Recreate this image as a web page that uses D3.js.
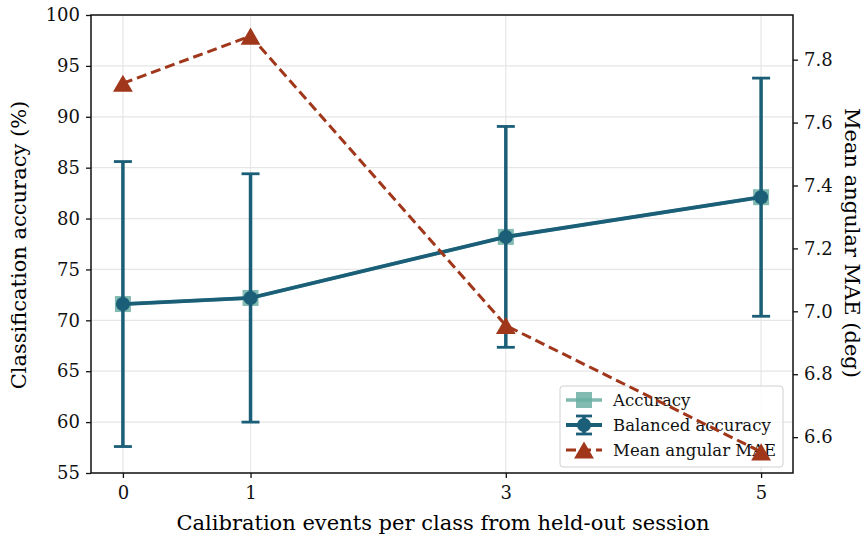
<!DOCTYPE html>
<html>
<head>
<meta charset="utf-8">
<script src="https://cdn.jsdelivr.net/npm/d3@7"></script>
<style>
  body { margin: 0; background: #fff; }
  svg { font-family: "DejaVu Serif", serif; }
</style>
</head>
<body>
<svg id="chart" width="867" height="537"></svg>
<script>
// Calibration events per class and the metrics measured at each
const calibEvents = [0, 1, 3, 5];
const accuracy = [71.6, 72.2, 78.2, 82.1];
const balancedAccuracy = [71.6, 72.2, 78.2, 82.1];
const balancedStd = [14.0, 12.2, 10.85, 11.7];
const meanAngularMAE = [7.725, 7.875, 6.955, 6.553];
const leftTicks = [55, 60, 65, 70, 75, 80, 85, 90, 95, 100];
const rightTicks = [6.6, 6.8, 7.0, 7.2, 7.4, 7.6, 7.8];

const W = 867, H = 537;
const m = { left: 91, right: 74, top: 15, bottom: 64 };
const iw = W - m.left - m.right, ih = H - m.top - m.bottom;

const cAcc = "#6aaea3", cBal = "#1b5e78", cMae = "#a0361a";

const svg = d3.select("#chart");
const g = svg.append("g").attr("transform", `translate(${m.left},${m.top})`);

const x = d3.scaleLinear().domain([-0.25, 5.25]).range([0, iw]);
const y = d3.scaleLinear().domain([55, 100]).range([ih, 0]);
const y2 = d3.scaleLinear().domain([6.486, 7.942]).range([ih, 0]);

// grid
g.append("g").selectAll("line").data(leftTicks).join("line")
  .attr("x1", 0).attr("x2", iw).attr("y1", d => y(d)).attr("y2", d => y(d))
  .attr("stroke", "#e6e6e6").attr("stroke-width", 1.2);
g.append("g").selectAll("line").data(calibEvents).join("line")
  .attr("y1", 0).attr("y2", ih).attr("x1", d => x(d)).attr("x2", d => x(d))
  .attr("stroke", "#e6e6e6").attr("stroke-width", 1.2);

// axes
const styleAxis = sel => {
  sel.selectAll("text").attr("font-size", 18).attr("fill", "#111").attr("font-family", "DejaVu Serif");
  sel.selectAll("line").attr("stroke", "#111").attr("stroke-width", 1.3);
  sel.select(".domain").remove();
};
g.append("g").attr("transform", `translate(0,${ih})`)
  .call(d3.axisBottom(x).tickValues(calibEvents).tickFormat(d3.format("d")).tickSize(5).tickPadding(8))
  .call(styleAxis);
g.append("g")
  .call(d3.axisLeft(y).tickValues(leftTicks).tickSize(5).tickPadding(6))
  .call(styleAxis);
g.append("g").attr("transform", `translate(${iw},0)`)
  .call(d3.axisRight(y2).tickValues(rightTicks).tickFormat(d3.format(".1f")).tickSize(5).tickPadding(6))
  .call(styleAxis);

// frame
g.append("rect").attr("width", iw).attr("height", ih)
  .attr("fill", "none").attr("stroke", "#111").attr("stroke-width", 1.5);

// axis titles
svg.append("text").attr("transform", `translate(26,${m.top + ih / 2 + 1}) rotate(-90)`)
  .attr("text-anchor", "middle").attr("font-size", 21).text("Classification accuracy (%)");
svg.append("text").attr("transform", `translate(845,${m.top + ih / 2 - 1}) rotate(90)`)
  .attr("text-anchor", "middle").attr("font-size", 21).text("Mean angular MAE (deg)");
svg.append("text").attr("x", m.left + iw / 2 + 1).attr("y", 530)
  .attr("text-anchor", "middle").attr("font-size", 21).text("Calibration events per class from held-out session");

const plot = g.append("g");

// accuracy (light, underneath)
const accPts = calibEvents.map((e, i) => [x(e), y(accuracy[i])]);
plot.append("path").attr("d", d3.line()(accPts)).attr("fill", "none")
  .attr("stroke", cAcc).attr("stroke-width", 3.5).attr("opacity", 0.85);
plot.append("g").selectAll("rect").data(accPts).join("rect")
  .attr("x", d => d[0] - 8).attr("y", d => d[1] - 8).attr("width", 16).attr("height", 16)
  .attr("fill", cAcc).attr("opacity", 0.85);

// balanced accuracy with std error bars
const balPts = calibEvents.map((e, i) => ({ x: x(e), y: y(balancedAccuracy[i]),
  lo: y(balancedAccuracy[i] - balancedStd[i]), hi: y(balancedAccuracy[i] + balancedStd[i]) }));
const eb = plot.append("g").attr("stroke", cBal).attr("stroke-width", 3.5);
eb.selectAll(".v").data(balPts).join("line")
  .attr("x1", d => d.x).attr("x2", d => d.x).attr("y1", d => d.lo).attr("y2", d => d.hi);
eb.selectAll(".ct").data(balPts).join("line")
  .attr("x1", d => d.x - 9).attr("x2", d => d.x + 9).attr("y1", d => d.hi).attr("y2", d => d.hi).attr("stroke-width", 2.8);
eb.selectAll(".cb").data(balPts).join("line")
  .attr("x1", d => d.x - 9).attr("x2", d => d.x + 9).attr("y1", d => d.lo).attr("y2", d => d.lo).attr("stroke-width", 2.8);
plot.append("path").attr("d", d3.line().x(d => d.x).y(d => d.y)(balPts)).attr("fill", "none")
  .attr("stroke", cBal).attr("stroke-width", 3.8);
plot.append("g").selectAll("circle").data(balPts).join("circle")
  .attr("cx", d => d.x).attr("cy", d => d.y).attr("r", 7).attr("fill", cBal);

// upward triangle centred on its bounding box
const boxTriangle = {
  draw(ctx, size) {
    const s = Math.sqrt(size * 4 / Math.sqrt(3));
    const h = s * Math.sqrt(3) / 2;
    ctx.moveTo(0, -h / 2);
    ctx.lineTo(s / 2, h / 2);
    ctx.lineTo(-s / 2, h / 2);
    ctx.closePath();
  }
};
const tri = d3.symbol().type(boxTriangle).size(170);

// legend (sits under the right-axis series)
const lg = svg.append("g").attr("transform", "translate(560,386)");
lg.append("rect").attr("width", 223).attr("height", 81).attr("rx", 3)
  .attr("fill", "#fff").attr("fill-opacity", 0.8).attr("stroke", "#d0d0d0").attr("stroke-width", 1);
const items = [
  { label: "Accuracy", kind: "acc" },
  { label: "Balanced accuracy", kind: "bal" },
  { label: "Mean angular MAE", kind: "mae" }
];
items.forEach((it, i) => {
  const cy = 14 + i * 25, hx = 24;
  const row = lg.append("g");
  if (it.kind === "acc") {
    row.append("line").attr("x1", 6).attr("x2", 42).attr("y1", cy).attr("y2", cy)
      .attr("stroke", cAcc).attr("stroke-width", 3.5).attr("opacity", 0.85);
    row.append("rect").attr("x", hx - 8).attr("y", cy - 8).attr("width", 16).attr("height", 16)
      .attr("fill", cAcc).attr("opacity", 0.85);
  } else if (it.kind === "bal") {
    row.append("line").attr("x1", 6).attr("x2", 42).attr("y1", cy).attr("y2", cy)
      .attr("stroke", cBal).attr("stroke-width", 3.8);
    row.append("line").attr("x1", hx).attr("x2", hx).attr("y1", cy - 9).attr("y2", cy + 9)
      .attr("stroke", cBal).attr("stroke-width", 3.5);
    [cy - 9, cy + 9].forEach(yy => row.append("line").attr("x1", hx - 8).attr("x2", hx + 8)
      .attr("y1", yy).attr("y2", yy).attr("stroke", cBal).attr("stroke-width", 2.8));
    row.append("circle").attr("cx", hx).attr("cy", cy).attr("r", 7).attr("fill", cBal);
  } else {
    row.append("line").attr("x1", 6).attr("x2", 42).attr("y1", cy).attr("y2", cy)
      .attr("stroke", cMae).attr("stroke-width", 3).attr("stroke-dasharray", "10,5");
    row.append("path").attr("transform", `translate(${hx},${cy})`).attr("d", tri).attr("fill", cMae);
  }
  row.append("text").attr("x", 53).attr("y", cy + 5.5).attr("font-size", 16.5).attr("fill", "#111").text(it.label);
});

// mean angular MAE on the right axis, drawn above the legend
const maePts = calibEvents.map((e, i) => [x(e), y2(meanAngularMAE[i])]);
const maeLayer = svg.append("g").attr("transform", `translate(${m.left},${m.top})`);
maeLayer.append("path").attr("d", d3.line()(maePts)).attr("fill", "none")
  .attr("stroke", cMae).attr("stroke-width", 3).attr("stroke-dasharray", "10,5");
maeLayer.append("g").selectAll("path").data(maePts).join("path")
  .attr("transform", d => `translate(${d[0]},${d[1]})`).attr("d", tri).attr("fill", cMae);
</script>
</body>
</html>
